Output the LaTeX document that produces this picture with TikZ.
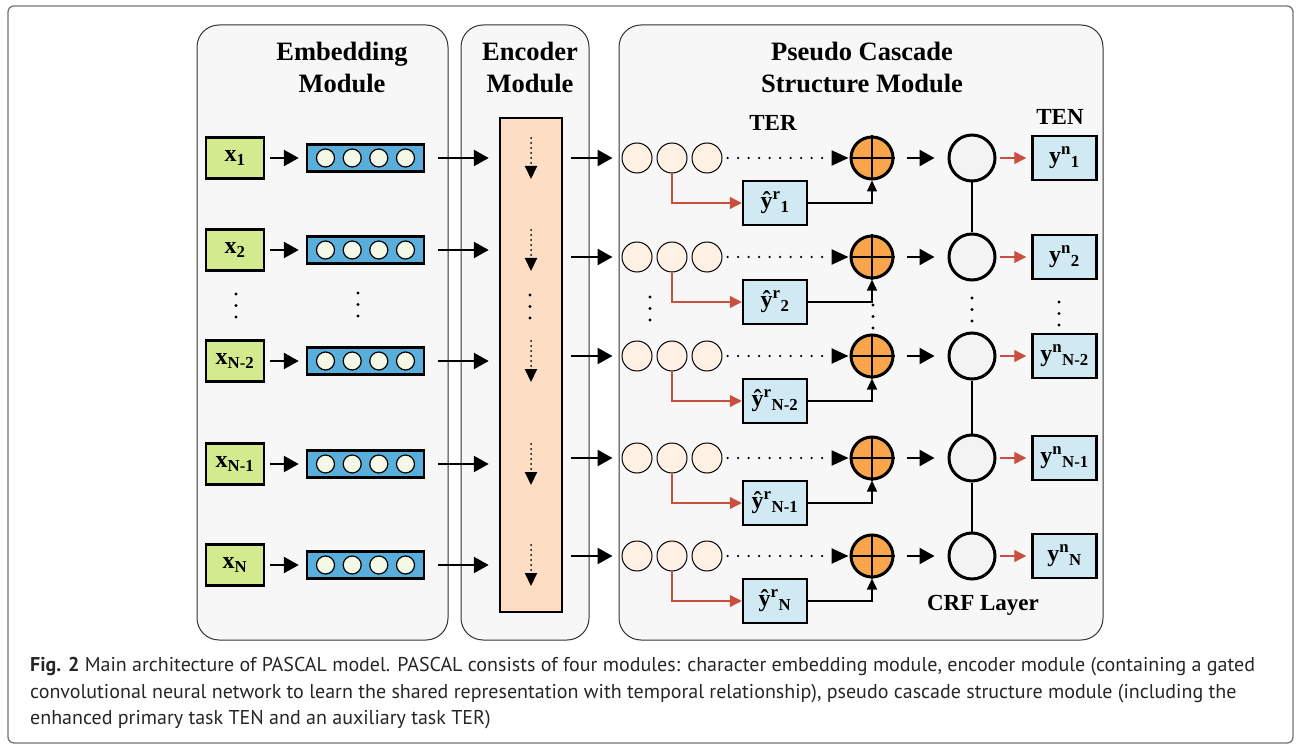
\documentclass[tikz,border=0pt]{standalone}
\usepackage{fontspec}
\setmainfont{Liberation Serif}
\newfontfamily\capfont{PT Sans}
\usetikzlibrary{arrows.meta}

\definecolor{xgreen}{HTML}{D3EB8E}
\definecolor{vecblue}{HTML}{5AAEDC}
\definecolor{veccell}{HTML}{F4F8E6}
\definecolor{encpeach}{HTML}{FDDDC4}
\definecolor{terpeach}{HTML}{FEF0E3}
\definecolor{plusorange}{HTML}{F8A54C}
\definecolor{outblue}{HTML}{D1E9F3}
\definecolor{crfgray}{HTML}{F3F3F3}
\definecolor{terred}{HTML}{C9503E}
\definecolor{panelbg}{HTML}{F7F7F7}

\tikzset{
  panel/.style={draw=black!80, fill=panelbg, line width=1pt, rounded corners=22pt},
  title/.style={font=\bfseries\fontsize{26.5}{32}\selectfont, align=center},
  lab/.style={font=\bfseries\fontsize{23}{23}\selectfont},
  inbox/.style={draw, line width=2.5pt, fill=xgreen, minimum width=58pt, minimum height=41pt, inner sep=0pt, font=\bfseries\fontsize{24}{24}\selectfont},
  vecbox/.style={draw, line width=2.5pt, fill=vecblue, minimum width=117pt, minimum height=27pt, inner sep=0pt},
  cell/.style={circle, draw, line width=1.2pt, fill=veccell, minimum size=18pt, inner sep=0pt},
  encbox/.style={draw, line width=2.5pt, fill=encpeach, minimum width=62pt, minimum height=494pt},
  tercell/.style={circle, draw, line width=1pt, fill=terpeach, minimum size=30pt, inner sep=0pt},
  plusnode/.style={circle, draw, line width=3pt, fill=plusorange, minimum size=42pt, inner sep=0pt},
  crfnode/.style={circle, draw, line width=3pt, fill=crfgray, minimum size=46pt, inner sep=0pt},
  outbox/.style={draw, line width=2.5pt, fill=outblue, minimum width=64pt, minimum height=44pt, inner sep=0pt, font=\bfseries\fontsize{24}{24}\selectfont},
  bigarr/.style={line width=2.5pt, -{Triangle[length=15pt,width=16pt]}},
  thinarr/.style={line width=1.3pt, -{Triangle[length=11pt,width=10pt]}},
  tearr/.style={draw=terred, line width=1.3pt, -{Triangle[length=12pt,width=12pt]}},
  dotarr/.style={line width=2.5pt, line cap=round, dash pattern=on 0pt off 10.5pt, -{Triangle[length=17pt,width=15pt]}},
  encdot/.style={line width=2pt, line cap=round, dash pattern=on 0pt off 5pt, -{Triangle[length=13pt,width=12pt]}},
  capt/.style={font=\capfont\fontsize{20}{24}\selectfont, inner sep=0pt, text=black!85, anchor=base west}
}

\begin{document}
\begin{tikzpicture}[x=1pt, y=-1pt]
\useasboundingbox (0,0) rectangle (1296,746);
% figure frame
\draw[black!55, line width=1.3pt, rounded corners=6pt] (8,6) rectangle (1293,743);

% the three modules
\draw[panel] (197,25) rectangle (448,640);
\draw[panel] (461,25) rectangle (589,640);
\draw[panel] (619,25) rectangle (1103,640);
\node[title] (embT) at (342,67) {Embedding\\Module};
\node[title] (encT) at (530,67) {Encoder\\Module};
\node[title] (pcsT) at (862,67) {Pseudo Cascade\\Structure Module};

\node[encbox] (enc) at (531,365) {};

% embedding rows
\foreach \i/\yl/\s in {1/158/1, 2/250/2, 3/361/N-2, 4/464/N-1, 5/565/N}{
  \node[inbox] (x\i) at (235,\yl) {x\textsubscript{\s}};
  \node[vecbox] (v\i) at (365.5,\yl) {};
  \foreach \k [count=\n] in {-40,-13.3,13.3,40}
    \node[cell] (v\i-\n) at (365.5+\k,\yl) {};
  \draw[bigarr, shorten <=5pt, shorten >=7pt] (x\i) -- (v\i);
  \draw[bigarr, shorten <=13pt, shorten >=10pt] (v\i.east) -- (enc.west |- v\i.east);
  \draw[encdot] (531,\yl-20) -- (531,\yl+21);
}

% pseudo cascade rows
\foreach \i/\yr/\s in {1/158/1, 2/257/2, 3/356/N-2, 4/458/N-1, 5/556/N}{
  \node[tercell] (t\i-1) at (637,\yr) {};
  \node[tercell] (t\i-2) at (672,\yr) {};
  \node[tercell] (t\i-3) at (707,\yr) {};
  \node[plusnode] (p\i) at (872,\yr) {};
  \draw[line width=2.5pt] (p\i.north) -- (p\i.south) (p\i.west) -- (p\i.east);
  \node[crfnode] (c\i) at (972,\yr) {};
  \node[outbox] (yn\i) at (1064.5,\yr) {y\textsuperscript{n}\textsubscript{\s}};
  \node[outbox] (yr\i) at (775,\yr+45) {ŷ\textsuperscript{r}\textsubscript{\s}};
  \draw[bigarr, shorten <=8pt, shorten >=9pt] (enc.east |- t\i-1.west) -- (t\i-1.west);
  \draw[dotarr, shorten <=5pt, shorten >=1pt] (t\i-3.east) -- (p\i.west);
  \draw[tearr] (t\i-2.south) |- (yr\i.west);
  \draw[thinarr] (yr\i.east) -| (p\i.south);
  \draw[bigarr, shorten <=12pt, shorten >=13pt] (p\i.east) -- (c\i.west);
  \draw[tearr, shorten <=3pt, shorten >=5pt] (c\i.east) -- (yn\i.west);
}
\draw[line width=1.5pt] (c1) -- (c2) (c3) -- (c4) -- (c5);

% vertical ellipses
\foreach \ex/\ey in {236/294, 358/293, 530/295, 650/297, 873/305, 972/298, 1059/302}
  \foreach \k in {0,1,2}
    \fill (\ex,\ey+11.5*\k) circle (1.6pt);

\node[lab] (ter) at (773,123) {TER};
\node[lab] (ten) at (1060,117) {TEN};
\node[lab] (crf) at (983,605) {CRF Layer};

% caption
\node[capt] (cap1) at (30,671) {\textbf{Fig. 2} Main architecture of PASCAL model. PASCAL consists of four modules: character embedding module, encoder module (containing a gated};
\node[capt] (cap2) at (30,698) {convolutional neural network to learn the shared representation with temporal relationship), pseudo cascade structure module (including the};
\node[capt] (cap3) at (30,724) {enhanced primary task TEN and an auxiliary task TER)};
\end{tikzpicture}
\end{document}
